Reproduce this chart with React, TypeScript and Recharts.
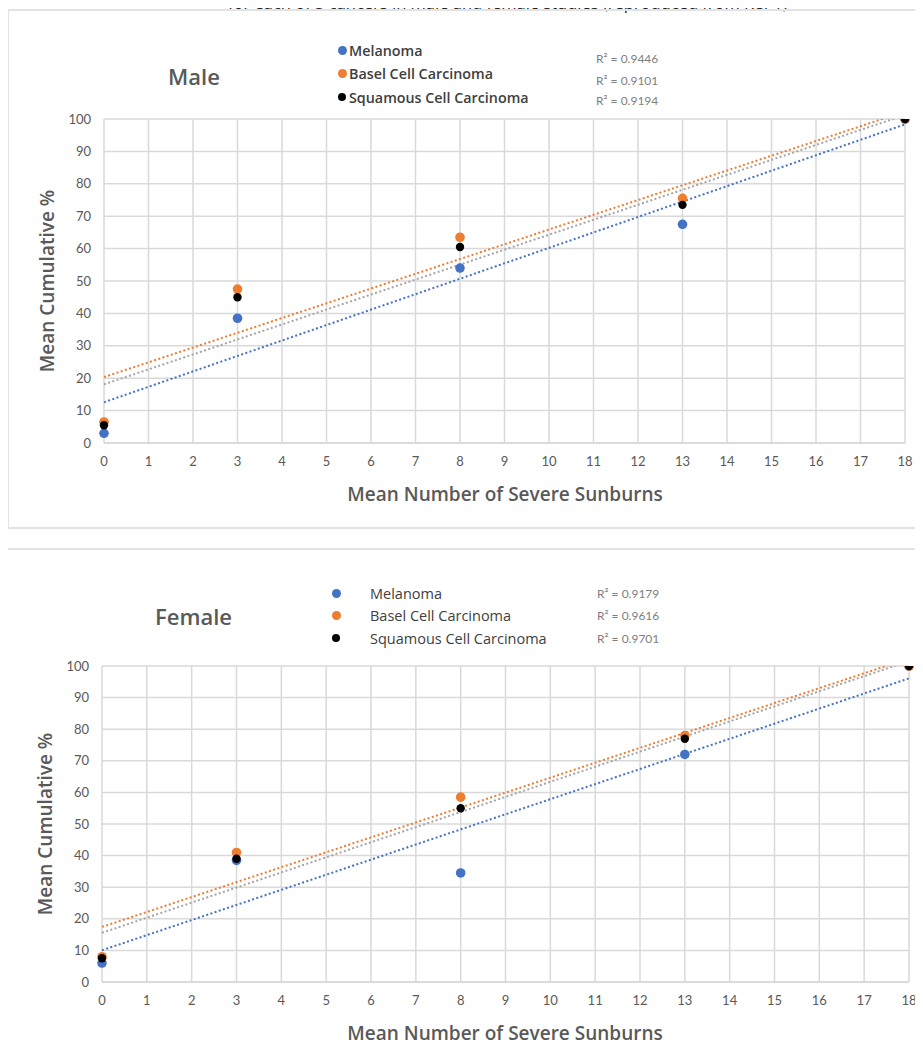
import React from "react";
import { ScatterChart, Scatter, XAxis, YAxis, CartesianGrid } from "recharts";

// mean number of severe sunburns (x) and mean cumulative % (y)
const sunburns = [0, 3, 8, 13, 18];

const maleMelanoma = [3, 38.5, 54, 67.5, 100];
const maleBasal = [6.5, 47.5, 63.5, 75.5, 100];
const maleSquamous = [5.5, 45, 60.5, 73.5, 100];
const maleR2 = ["0.9446", "0.9101", "0.9194"];

const femaleMelanoma = [6, 38.5, 34.5, 72, 100];
const femaleBasal = [8, 41, 58.5, 78, 100];
const femaleSquamous = [7.5, 39, 55, 77, 100];
const femaleR2 = ["0.9179", "0.9616", "0.9701"];

const seriesNames = ["Melanoma", "Basel Cell Carcinoma", "Squamous Cell Carcinoma"];
const xTicks = [0, 1, 2, 3, 4, 5, 6, 7, 8, 9, 10, 11, 12, 13, 14, 15, 16, 17, 18];
const yTicks = [0, 10, 20, 30, 40, 50, 60, 70, 80, 90, 100];

const markerColors = ["#4472C4", "#ED7D31", "#000000"];
const trendColors = ["#4472C4", "#ED7D31", "#A5A5A5"];
const FONT = "Lato, 'Open Sans', sans-serif";
const WIDE = "'Open Sans', Lato, sans-serif";

const toPoints = (ys: number[]) => sunburns.map((x, i) => ({ x, y: ys[i] }));

// least-squares trend line, like Excel's linear trendline
function trend(ys: number[]) {
  const n = sunburns.length;
  const mx = sunburns.reduce((a, b) => a + b, 0) / n;
  const my = ys.reduce((a, b) => a + b, 0) / n;
  let sxy = 0;
  let sxx = 0;
  sunburns.forEach((x, i) => {
    sxy += (x - mx) * (ys[i] - my);
    sxx += (x - mx) * (x - mx);
  });
  const slope = sxy / sxx;
  const icpt = my - slope * mx;
  const x0 = sunburns[0];
  const x1 = sunburns[n - 1];
  return [
    { x: x0, y: icpt + slope * x0 },
    { x: x1, y: icpt + slope * x1 },
  ];
}

const Dot = (props: any) => (
  <circle cx={props.cx} cy={props.cy} r={props.r} fill={props.fill} />
);

interface Geo {
  boxLeft: number;
  boxTop: number;
  boxHeight: number;
  chartTop: number;
  chartHeight: number;
  margin: { top: number; right: number; bottom: number; left: number };
  title: { left: number; cy: number };
  dotX: number;
  legendY: number[];
  textX: number;
  r2X: number;
  r2Y: number[];
  legendSize: number;
  legendWeight: number;
  xTitleY: number;
  yTitle: { cx: number; cy: number };
}

function Panel({ label, series, r2, geo }: { label: string; series: number[][]; r2: string[]; geo: Geo }) {
  return (
    <>
      <div
        style={{
          position: "absolute",
          left: geo.boxLeft,
          top: geo.boxTop,
          width: 1000,
          height: geo.boxHeight,
          border: "2px solid #E3E3E3",
          boxSizing: "border-box",
        }}
      />
      <div style={{ position: "absolute", left: 0, top: geo.chartTop }}>
        <ScatterChart width={923} height={geo.chartHeight} margin={geo.margin}>
          <CartesianGrid stroke="#D9D9D9" strokeWidth={1.5} />
          <XAxis
            dataKey="x"
            type="number"
            domain={[0, 18]}
            ticks={xTicks}
            interval={0}
            height={30}
            tick={{ fontSize: 13, fill: "#595959", fontFamily: FONT }}
            tickLine={false}
            axisLine={{ stroke: "#D9D9D9", strokeWidth: 1.5 }}
            tickMargin={8}
          />
          <YAxis
            dataKey="y"
            type="number"
            domain={[0, 100]}
            allowDataOverflow
            ticks={yTicks}
            interval={0}
            width={50}
            tick={{ fontSize: 13, fill: "#595959", fontFamily: FONT }}
            tickLine={false}
            axisLine={false}
            tickMargin={7}
          />
          {series.map((ys, i) => (
            <Scatter
              key={"t" + i}
              data={trend(ys)}
              fill={trendColors[i]}
              line={{ stroke: trendColors[i], strokeWidth: 2, strokeDasharray: "2 2.4" }}
              shape={() => <g />}
              isAnimationActive={false}
            />
          ))}
          {series.map((ys, i) => (
            <Scatter
              key={"s" + i}
              data={toPoints(ys)}
              fill={markerColors[i]}
              shape={(p: any) => <Dot {...p} r={i === 2 ? 4.2 : 4.8} />}
              isAnimationActive={false}
            />
          ))}
        </ScatterChart>
      </div>
      <div
        style={{
          position: "absolute",
          left: geo.title.left,
          top: geo.title.cy,
          transform: "translateY(-50%)",
          fontSize: 22,
          fontWeight: 600,
          color: "#595959",
          fontFamily: WIDE,
        }}
      >
        {label}
      </div>
      {seriesNames.map((name, i) => (
        <React.Fragment key={name}>
          <div
            style={{
              position: "absolute",
              left: geo.dotX - 4.5,
              top: geo.legendY[i] - 4.5,
              width: i === 2 ? 8 : 9,
              height: i === 2 ? 8 : 9,
              borderRadius: "50%",
              background: markerColors[i],
            }}
          />
          <div
            style={{
              position: "absolute",
              left: geo.textX,
              top: geo.legendY[i],
              transform: "translateY(-50%)",
              fontSize: geo.legendSize,
              fontWeight: geo.legendWeight,
              color: "#404040",
              fontFamily: WIDE,
              whiteSpace: "nowrap",
            }}
          >
            {name}
          </div>
          <div
            style={{
              position: "absolute",
              left: geo.r2X,
              top: geo.r2Y[i],
              transform: "translateY(-50%)",
              fontSize: 12,
              color: "#808080",
              fontFamily: FONT,
              whiteSpace: "nowrap",
            }}
          >
            R² = {r2[i]}
          </div>
        </React.Fragment>
      ))}
      <div
        style={{
          position: "absolute",
          left: 505,
          top: geo.xTitleY,
          transform: "translate(-50%, -50%)",
          fontSize: 19,
          fontWeight: 600,
          color: "#595959",
          fontFamily: WIDE,
          whiteSpace: "nowrap",
        }}
      >
        Mean Number of Severe Sunburns
      </div>
      <div
        style={{
          position: "absolute",
          left: geo.yTitle.cx,
          top: geo.yTitle.cy,
          transform: "translate(-50%, -50%) rotate(-90deg)",
          fontSize: 19,
          fontWeight: 600,
          color: "#595959",
          fontFamily: WIDE,
          whiteSpace: "nowrap",
        }}
      >
        Mean Cumulative %
      </div>
    </>
  );
}

const maleGeo: Geo = {
  boxLeft: 7,
  boxTop: 9,
  boxHeight: 520,
  chartTop: 10,
  chartHeight: 518,
  margin: { top: 109, right: 18, bottom: 55, left: 54 },
  title: { left: 168, cy: 76 },
  dotX: 342,
  legendY: [50, 73, 97],
  textX: 349,
  r2X: 596,
  r2Y: [58, 80, 100],
  legendSize: 14.3,
  legendWeight: 600,
  xTitleY: 494,
  yTitle: { cx: 47, cy: 281 },
};

const femaleGeo: Geo = {
  boxLeft: 4,
  boxTop: 548,
  boxHeight: 600,
  chartTop: 549,
  chartHeight: 514,
  margin: { top: 117, right: 14, bottom: 51, left: 52 },
  title: { left: 155, cy: 616 },
  dotX: 336,
  legendY: [593, 615, 638],
  textX: 370,
  r2X: 597,
  r2Y: [593, 615, 638],
  legendSize: 14.5,
  legendWeight: 500,
  xTitleY: 1033,
  yTitle: { cx: 45, cy: 824 },
};

export default function App() {
  return (
    <div
      style={{
        position: "relative",
        margin: -8,
        width: 923,
        height: 1063,
        overflow: "hidden",
        background: "#fff",
      }}
    >
      <div
        style={{
          position: "absolute",
          left: 228,
          top: -5,
          fontSize: 16.5,
          lineHeight: "16.5px",
          color: "#222",
          fontFamily: WIDE,
          whiteSpace: "nowrap",
        }}
      >
        for each of 3 cancers in male and female studies (reproduced from Ref 1)
      </div>
      <Panel label="Male" series={[maleMelanoma, maleBasal, maleSquamous]} r2={maleR2} geo={maleGeo} />
      <Panel label="Female" series={[femaleMelanoma, femaleBasal, femaleSquamous]} r2={femaleR2} geo={femaleGeo} />
    </div>
  );
}
